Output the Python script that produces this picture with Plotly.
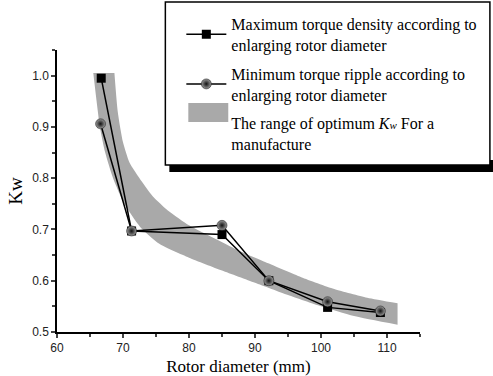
import plotly.graph_objects as go

# ---- data ----
dia_max = [66.7, 71.3, 85.0, 92.1, 101.0, 109.0]
kw_max = [0.995, 0.697, 0.690, 0.600, 0.548, 0.538]

dia_min = [66.6, 71.3, 85.0, 92.1, 101.0, 109.0]
kw_min = [0.906, 0.697, 0.708, 0.600, 0.559, 0.541]

band_upper_x = [68.7, 69.2, 70.0, 71.0, 72.5, 74.5, 77.0, 80.0, 83.0, 87.0, 92.0, 97.0, 102.0, 107.0, 111.6]
band_upper_y = [1.005, 0.93, 0.87, 0.83, 0.80, 0.765, 0.735, 0.708, 0.688, 0.662, 0.634, 0.607, 0.584, 0.567, 0.556]
band_lower_x = [65.5, 66.0, 66.5, 67.3, 68.5, 70.2, 72.6, 75.5, 80.0, 85.0, 90.0, 95.0, 100.0, 105.0, 111.6]
band_lower_y = [1.005, 0.95, 0.90, 0.85, 0.80, 0.75, 0.705, 0.672, 0.645, 0.620, 0.596, 0.572, 0.550, 0.531, 0.514]

x_ticks = [60, 70, 80, 90, 100, 110]
y_ticks = [0.5, 0.6, 0.7, 0.8, 0.9, 1.0]

serif = "Liberation Serif, Times New Roman, serif"
sans = "Liberation Sans, Arial, sans-serif"

# plot-area pixel geometry (for legend box decoration)
L, R, T, B = 56.5, 73, 50, 44
W, H = 493, 376
PW, PH = W - L - R, H - T - B


def px(xp):
    return (xp - L) / PW


def py(yp):
    return (H - B - yp) / PH


fig = go.Figure()

# band: lower edge, then upper edge filled to it
fig.add_trace(go.Scatter(
    x=band_lower_x, y=band_lower_y, mode="lines",
    line=dict(width=0, shape="spline", smoothing=0.6, color="#a9a9a9"),
    showlegend=False, hoverinfo="skip"))
fig.add_trace(go.Scatter(
    x=band_upper_x, y=band_upper_y, mode="lines", fill="tonexty", fillcolor="#a9a9a9",
    line=dict(width=0, shape="spline", smoothing=0.6, color="#a9a9a9"),
    showlegend=False, hoverinfo="skip"))

fig.add_trace(go.Scatter(
    x=dia_max, y=kw_max, mode="lines+markers",
    line=dict(color="black", width=1.5),
    marker=dict(symbol="square", size=9, color="black"),
    name="Maximum torque density according to<br>enlarging rotor diameter",
    legendrank=1, legendgroup="a"))

fig.add_trace(go.Scatter(
    x=dia_min, y=kw_min, mode="lines+markers",
    line=dict(color="black", width=1.5),
    marker=dict(symbol="circle", size=10, color="#9a9a9a",
                gradient=dict(type="radial", color="#111111"),
                line=dict(width=0.5, color="#111")),
    name="Minimum torque ripple according to<br>enlarging rotor diameter",
    legendrank=2, legendgroup="b"))

# legend text entry for the band (its swatch is drawn as a shape below)
fig.add_trace(go.Scatter(
    x=[None], y=[None], mode="markers", marker=dict(color="rgba(0,0,0,0)", size=1),
    name="The range of optimum <i>K</i><i><span style='font-size:11px'>w</span></i> For a<br>manufacture",
    legendrank=3, legendgroup="c", hoverinfo="skip"))

shapes = [
    # legend shadow
    dict(type="rect", xref="paper", yref="paper", x0=px(169), x1=px(497), y0=py(172), y1=py(160),
         fillcolor="black", line=dict(width=0), layer="above"),
    # legend box
    dict(type="rect", xref="paper", yref="paper", x0=px(165), x1=px(490), y0=py(165), y1=py(2),
         fillcolor="white", line=dict(color="black", width=1.5), layer="above"),
    # large gray swatch for the band entry
    dict(type="rect", xref="paper", yref="paper", x0=px(188), x1=px(228), y0=py(122), y1=py(103),
         fillcolor="#a9a9a9", line=dict(width=0), layer="above"),
]

fig.update_layout(
    width=W, height=H,
    margin=dict(l=L, r=R, t=T, b=B, autoexpand=False),
    paper_bgcolor="white", plot_bgcolor="white",
    showlegend=True, shapes=shapes,
    legend=dict(x=px(181), y=py(7), xanchor="left", yanchor="top",
                bgcolor="rgba(0,0,0,0)", borderwidth=0,
                font=dict(family=serif, size=16, color="black"),
                tracegroupgap=5, itemwidth=40),
    xaxis=dict(range=[60, 115], tickvals=x_ticks, ticks="outside", ticklen=4, tickwidth=1.5,
               showline=True, linecolor="black", linewidth=1.5, showgrid=False, zeroline=False,
               tickfont=dict(family=sans, size=12, color="#222"),
               minor=dict(dtick=5, tick0=60, ticks="outside", ticklen=3, tickwidth=1.5, showgrid=False),
               title=dict(text="Rotor diameter (mm)", font=dict(family=serif, size=17, color="black"), standoff=7)),
    yaxis=dict(range=[0.5, 1.05], tickvals=y_ticks, tickformat=".1f", ticks="outside", ticklen=4, tickwidth=1.5,
               showline=True, linecolor="black", linewidth=1.5, showgrid=False, zeroline=False,
               tickfont=dict(family=sans, size=12, color="#222"),
               minor=dict(dtick=0.05, tick0=0.5, ticks="outside", ticklen=3, tickwidth=1.5, showgrid=False),
               title=dict(text="Kw", font=dict(family=serif, size=19, color="black"), standoff=5)),
)

fig.write_html("out.html", config={"displayModeBar": False},
               post_script="document.body.style.margin='0px';")
